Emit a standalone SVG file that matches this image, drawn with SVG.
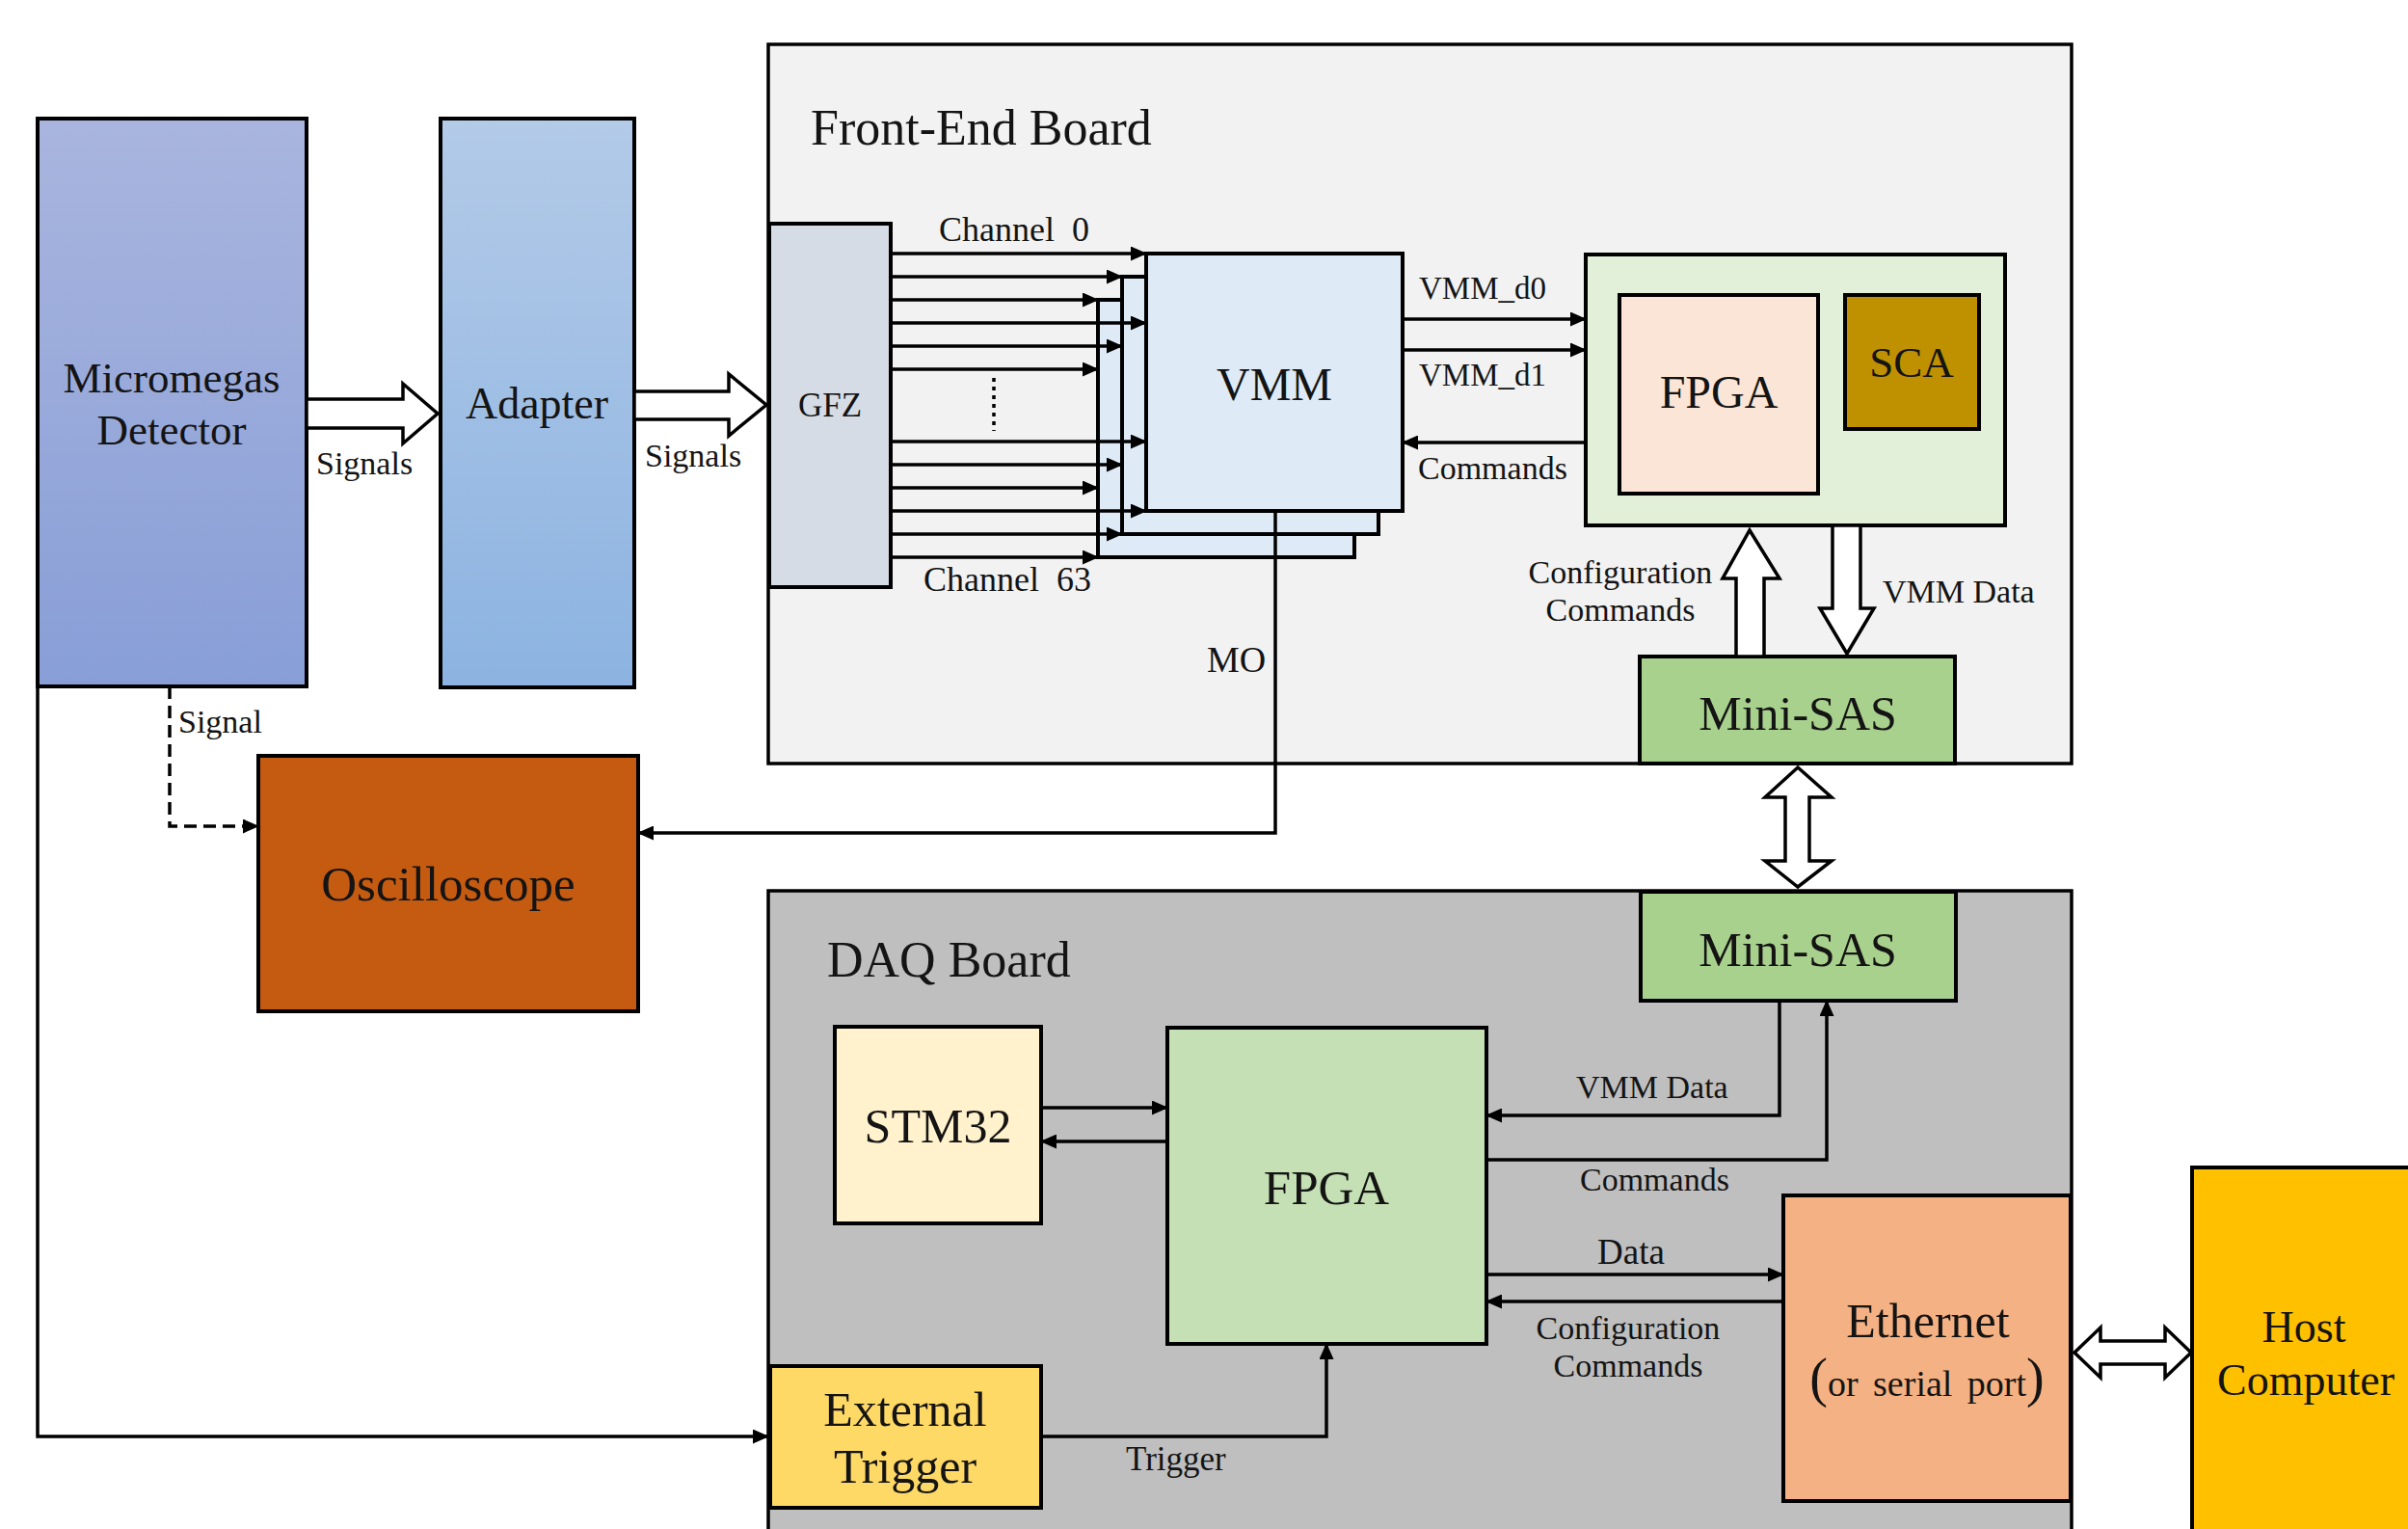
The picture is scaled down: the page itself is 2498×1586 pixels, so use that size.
<svg xmlns="http://www.w3.org/2000/svg" width="2498" height="1586" viewBox="0 0 2498 1586">
<style>
.box{stroke:#000;stroke-width:4}
.board{stroke:#000;stroke-width:3.5}
.ln{stroke:#000;stroke-width:3.5;fill:none}
.blk{stroke:#000;stroke-width:3.5;fill:#fff;stroke-linejoin:miter}
.t{font-family:"Liberation Serif","Times New Roman",serif;fill:#141414}
.m{text-anchor:middle}
.big{font-size:50px}
.lbl{font-size:34px}
.title{font-size:52px}
</style>
<defs>
<marker id="ah" markerUnits="userSpaceOnUse" markerWidth="17" markerHeight="15" refX="16" refY="7.5" orient="auto">
<path d="M0,0 L17,7.5 L0,15 z" fill="#000"/>
</marker>
<linearGradient id="gMicro" x1="0" y1="0" x2="0" y2="1">
<stop offset="0" stop-color="#A9B5DE"/>
<stop offset="1" stop-color="#889ED7"/>
</linearGradient>
<linearGradient id="gAdapt" x1="0" y1="0" x2="0" y2="1">
<stop offset="0" stop-color="#B3CAE8"/>
<stop offset="1" stop-color="#8CB3E1"/>
</linearGradient>
</defs>
<rect width="2498" height="1586" fill="#fff"/>

<g id="front-end-board">
<rect class="board" x="797" y="46" width="1352" height="746" fill="#F2F2F2"/>
<text class="t title" x="841" y="150">Front-End Board</text>
</g>
<g id="daq-board">
<rect class="board" x="797" y="924" width="1352" height="700" fill="#BFBFBF"/>
<text class="t title" x="858" y="1013">DAQ Board</text>
</g>

<g id="micromegas">
<rect class="box" x="39" y="123" width="279" height="589" fill="url(#gMicro)"/>
<text class="t m" x="178" y="407" font-size="45">Micromegas</text>
<text class="t m" x="178" y="461" font-size="45">Detector</text>
</g>
<g id="adapter">
<rect class="box" x="457" y="123" width="201" height="590" fill="url(#gAdapt)"/>
<text class="t m" x="557" y="434" font-size="46">Adapter</text>
</g>
<g id="gfz">
<rect class="box" x="798" y="232" width="126" height="377" fill="#D6DCE5"/>
<text class="t m" x="861" y="432" font-size="35">GFZ</text>
</g>
<g id="vmm">
<rect class="box" x="1139" y="311" width="266" height="267" fill="#DEEBF7"/>
<rect class="box" x="1164" y="287" width="266" height="267" fill="#DEEBF7"/>
<rect class="box" x="1189" y="263" width="266" height="267" fill="#DEEBF7"/>
<text class="t m" x="1322" y="415" font-size="48">VMM</text>
</g>
<g id="fe-fpga-module">
<rect class="box" x="1645" y="264" width="435" height="281" fill="#E2F0D9"/>
</g>
<g id="fe-fpga">
<rect class="box" x="1680" y="306" width="206" height="206" fill="#FBE5D6"/>
<text class="t m" x="1783" y="423" font-size="48">FPGA</text>
</g>
<g id="sca">
<rect class="box" x="1914" y="306" width="139" height="139" fill="#BF9000"/>
<text class="t m" x="1983" y="391" font-size="45">SCA</text>
</g>
<g id="fe-mini-sas">
<rect class="box" x="1701" y="681" width="327" height="111" fill="#A9D18E"/>
<text class="t m big" x="1865" y="757">Mini-SAS</text>
</g>
<g id="daq-mini-sas">
<rect class="box" x="1702" y="925" width="327" height="113" fill="#A9D18E"/>
<text class="t m big" x="1865" y="1002">Mini-SAS</text>
</g>
<g id="oscilloscope">
<rect class="box" x="268" y="784" width="394" height="265" fill="#C55A11"/>
<text class="t m" x="465" y="934" font-size="51">Oscilloscope</text>
</g>
<g id="stm32">
<rect class="box" x="866" y="1065" width="214" height="204" fill="#FFF2CC"/>
<text class="t m big" x="973" y="1185">STM32</text>
</g>
<g id="daq-fpga">
<rect class="box" x="1211" y="1066" width="331" height="328" fill="#C5E0B4"/>
<text class="t m" x="1376" y="1249" font-size="51">FPGA</text>
</g>
<g id="external-trigger">
<rect class="box" x="799" y="1417" width="281" height="147" fill="#FFD966"/>
<text class="t m big" x="939" y="1479">External</text>
<text class="t m big" x="939" y="1538">Trigger</text>
</g>
<g id="ethernet">
<rect class="box" x="1850" y="1240" width="298" height="317" fill="#F4B183"/>
<text class="t m big" x="2000" y="1387">Ethernet</text>
<text class="t m" x="1999" y="1448" font-size="38" word-spacing="6"><tspan font-size="56">(</tspan>or serial port<tspan font-size="56">)</tspan></text>
</g>
<g id="host-computer">
<rect class="box" x="2274" y="1211" width="240" height="400" fill="#FFC000"/>
<text class="t m" x="2390" y="1392" font-size="46">Host</text>
<text class="t m" x="2392" y="1447" font-size="46">Computer</text>
</g>

<g id="connectors">
<polygon class="blk" points="318,414 418,414 418,398 454,429 418,460 418,444 318,444"/>
<polygon class="blk" points="658,406 756,406 756,388 795,420 756,452 756,435 658,435"/>
<g marker-end="url(#ah)">
<line class="ln" x1="924" y1="263" x2="1189" y2="263"/>
<line class="ln" x1="924" y1="287" x2="1164" y2="287"/>
<line class="ln" x1="924" y1="311" x2="1139" y2="311"/>
<line class="ln" x1="924" y1="335" x2="1189" y2="335"/>
<line class="ln" x1="924" y1="359" x2="1164" y2="359"/>
<line class="ln" x1="924" y1="383" x2="1139" y2="383"/>
<line class="ln" x1="924" y1="458" x2="1189" y2="458"/>
<line class="ln" x1="924" y1="482" x2="1164" y2="482"/>
<line class="ln" x1="924" y1="506" x2="1139" y2="506"/>
<line class="ln" x1="924" y1="530" x2="1189" y2="530"/>
<line class="ln" x1="924" y1="554" x2="1164" y2="554"/>
<line class="ln" x1="924" y1="578" x2="1139" y2="578"/>
<line class="ln" x1="1455" y1="331" x2="1645" y2="331"/>
<line class="ln" x1="1455" y1="363" x2="1645" y2="363"/>
<line class="ln" x1="1645" y1="459" x2="1455" y2="459"/>
<polyline class="ln" points="1323,530 1323,864 662,864"/>
<polyline class="ln" points="176,712 176,857 268,857" stroke-dasharray="13 7"/>
<polyline class="ln" points="39,712 39,1490 797,1490"/>
<polyline class="ln" points="1080,1490 1376,1490 1376,1394"/>
<line class="ln" x1="1080" y1="1149" x2="1211" y2="1149"/>
<line class="ln" x1="1211" y1="1184" x2="1080" y2="1184"/>
<polyline class="ln" points="1846,1038 1846,1157 1542,1157"/>
<polyline class="ln" points="1542,1203 1895,1203 1895,1038"/>
<line class="ln" x1="1542" y1="1322" x2="1850" y2="1322"/>
<line class="ln" x1="1850" y1="1350" x2="1542" y2="1350"/>
</g>
<line class="ln" x1="1031" y1="392" x2="1031" y2="447" stroke-width="3" stroke-dasharray="4 5"/>
<polygon class="blk" points="1801,681 1801,600 1787,600 1815,550 1846,600 1830,600 1830,681"/>
<polygon class="blk" points="1901,545 1930,545 1930,631 1944,631 1916,678 1888,631 1901,631"/>
<polygon class="blk" points="1865,796 1900,827 1877,827 1877,893 1900,893 1865,920 1831,893 1852,893 1852,827 1831,827"/>
<polygon class="blk" points="2152,1403 2179,1377 2179,1391 2246,1391 2246,1377 2273,1403 2246,1429 2246,1415 2179,1415 2179,1429"/>
</g>

<g id="labels">
<text class="t lbl" x="328" y="492">Signals</text>
<text class="t lbl" x="669" y="484">Signals</text>
<text class="t" x="974" y="250" font-size="36" word-spacing="9">Channel 0</text>
<text class="t" x="958" y="613" font-size="36" word-spacing="9">Channel 63</text>
<text class="t" x="1472" y="310" font-size="33">VMM_d0</text>
<text class="t" x="1472" y="400" font-size="33">VMM_d1</text>
<text class="t lbl" x="1471" y="497">Commands</text>
<text class="t lbl m" x="1681" y="605">Configuration</text>
<text class="t lbl m" x="1681" y="644">Commands</text>
<text class="t lbl" x="1953" y="625">VMM Data</text>
<text class="t" x="1252" y="697" font-size="38">MO</text>
<text class="t lbl" x="185" y="760">Signal</text>
<text class="t" x="1168" y="1525" font-size="35">Trigger</text>
<text class="t lbl" x="1635" y="1139">VMM Data</text>
<text class="t lbl" x="1639" y="1235">Commands</text>
<text class="t" x="1657" y="1311" font-size="37">Data</text>
<text class="t lbl m" x="1689" y="1389">Configuration</text>
<text class="t lbl m" x="1689" y="1428">Commands</text>
</g>
</svg>
